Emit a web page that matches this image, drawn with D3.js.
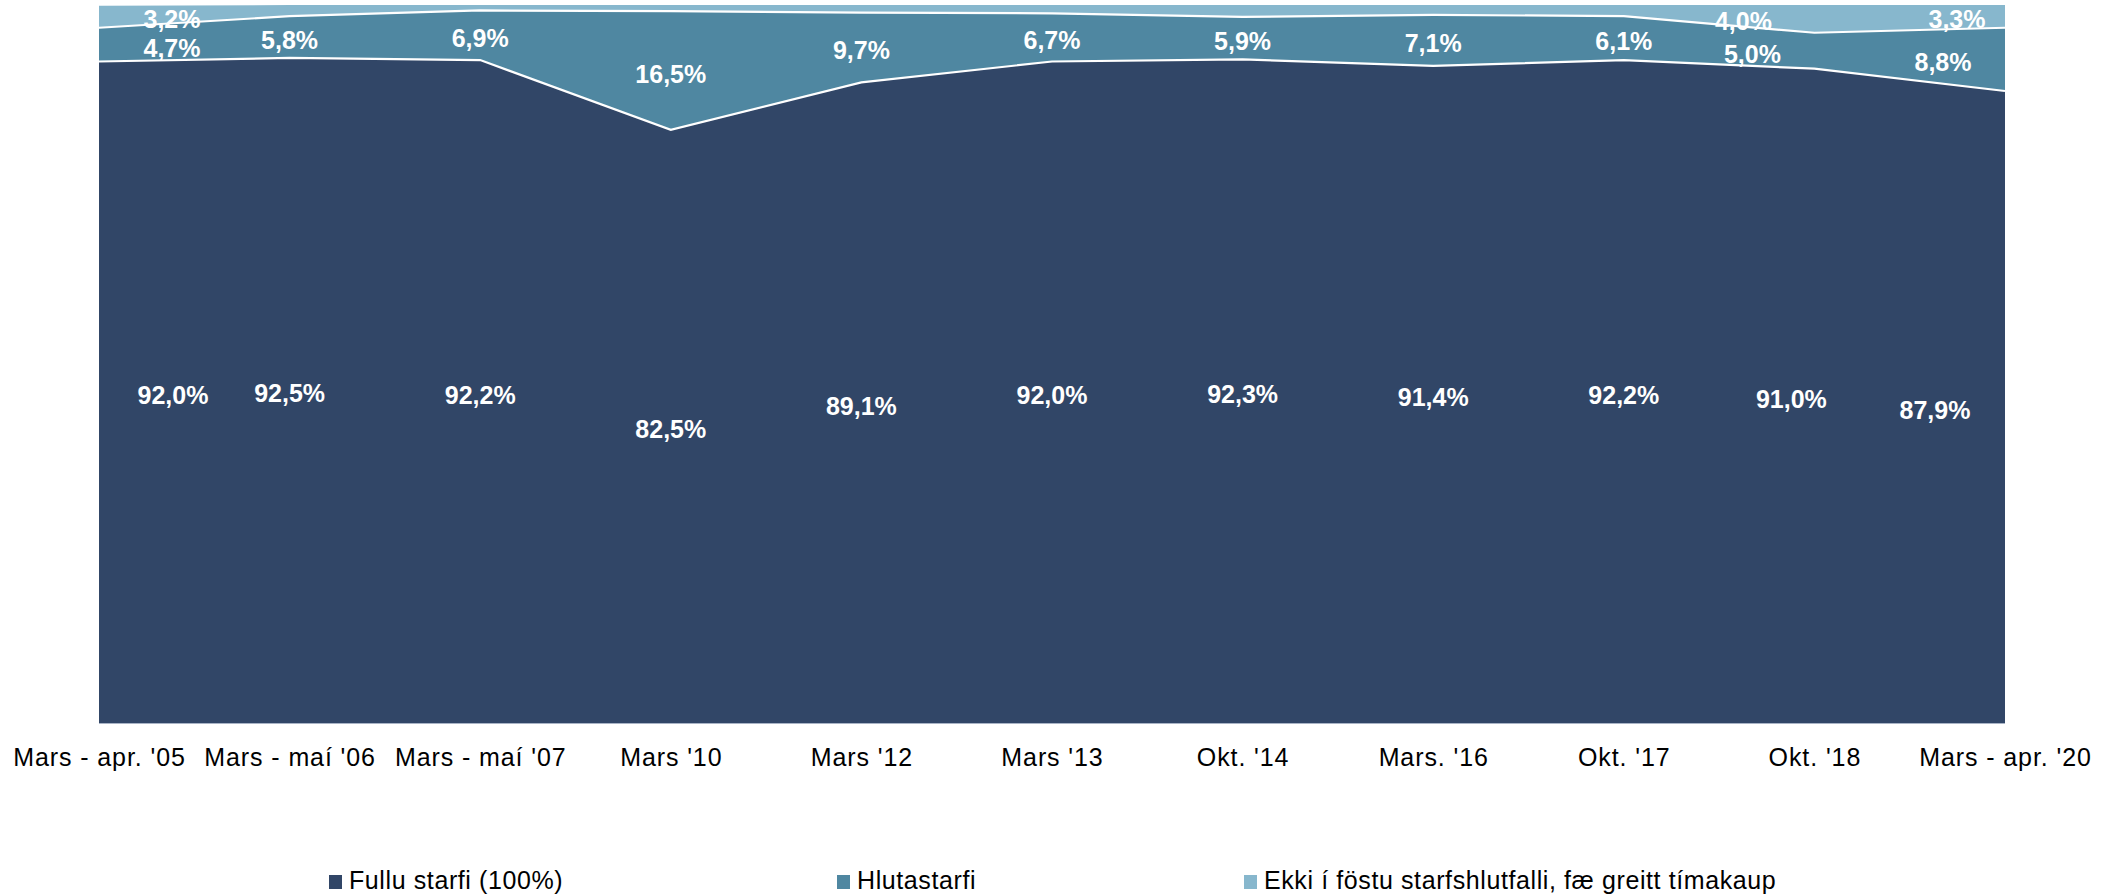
<!DOCTYPE html>
<html>
<head>
<meta charset="utf-8">
<script src="https://cdn.jsdelivr.net/npm/d3@7"></script>
<style>
  body { margin: 0; background: #fff; }
  svg { display: block; font-family: "Liberation Sans", Arial, sans-serif; }
</style>
</head>
<body>
<svg class="chart" width="2118" height="895"></svg>
<script>
// data (percent of workers)
const periods = ["Mars - apr. '05", "Mars - maí '06", "Mars - maí '07", "Mars '10", "Mars '12",
  "Mars '13", "Okt. '14", "Mars. '16", "Okt. '17", "Okt. '18", "Mars - apr. '20"];
const fullu = [92.0, 92.5, 92.2, 82.5, 89.1, 92.0, 92.3, 91.4, 92.2, 91.0, 87.9];
const hluta = [4.7, 5.8, 6.9, 16.5, 9.7, 6.7, 5.9, 7.1, 6.1, 5.0, 8.8];
const ekki = [3.2, 1.7, 0.9, 1.0, 1.2, 1.3, 1.8, 1.5, 1.7, 4.0, 3.3];
const seriesNames = ['Fullu starfi (100%)', 'Hlutastarfi', 'Ekki í föstu starfshlutfalli, fæ greitt tímakaup'];
const seriesKeys = ['fullu', 'hluta', 'ekki'];
const colors = ['#314667', '#4f87a1', '#87b7cd'];
// the light series only has labels on some points
const ekkiLabelled = [0, 9, 10];

const rows = periods.map((p, i) => ({ period: p, fullu: fullu[i], hluta: hluta[i], ekki: ekki[i] }));

const svg = d3.select('.chart');
const plot = { left: 99, right: 2005, top: 4, bottom: 723 };

const x = d3.scalePoint().domain(periods).range([plot.left, plot.right]).padding(0);
const y = d3.scaleLinear().domain([0, 100]).range([plot.bottom, plot.top]);

const stacked = d3.stack().keys(seriesKeys)(rows);

const area = d3.area()
  .x(d => x(d.data.period))
  .y0(d => y(d[0]))
  .y1(d => y(d[1]));

const topLine = d3.line()
  .x(d => x(d.data.period))
  .y(d => y(d[1]));

svg.append('g')
  .selectAll('path')
  .data(stacked)
  .enter()
  .append('path')
  .attr('fill', (d, i) => colors[i])
  .attr('d', area);

svg.append('g')
  .selectAll('path')
  .data(stacked)
  .enter()
  .append('path')
  .attr('fill', 'none')
  .attr('stroke', '#fff')
  .attr('stroke-width', 2.2)
  .attr('d', topLine);

svg.append('line')
  .attr('x1', plot.left).attr('x2', plot.right)
  .attr('y1', plot.bottom + 0.5).attr('y2', plot.bottom + 0.5)
  .attr('stroke', '#a9b4c6')
  .attr('stroke-width', 1);

// x axis
const xAxis = svg.append('g')
  .attr('transform', `translate(0, ${plot.bottom})`)
  .call(d3.axisBottom(x).tickSize(0).tickPadding(43));
xAxis.select('.domain').remove();
xAxis.selectAll('text')
  .attr('font-family', '"Liberation Sans", Arial, sans-serif')
  .attr('font-size', 25)
  .attr('letter-spacing', 0.9)
  .attr('fill', '#000')
  .attr('dy', 0);

// data labels
const fmt = v => d3.format('.1f')(v).replace('.', ',') + '%';
// labels nudged in from the plot edges, and around the dip at Okt. '18
const labelShift = { 0: [74, 73, 73], 9: [-23, -62, -71], 10: [-70, -62, -48] };

stacked.forEach((layer, s) => {
  const pts = layer.filter((d, i) => s < 2 || ekkiLabelled.includes(i));
  svg.append('g')
    .selectAll('text')
    .data(pts)
    .enter()
    .append('text')
    .attr('x', d => {
      const i = periods.indexOf(d.data.period);
      const dx = labelShift[i] ? labelShift[i][s] : 0;
      return x(d.data.period) + dx;
    })
    .attr('y', d => (y(d[0]) + y(d[1])) / 2 + 12)
    .attr('text-anchor', 'middle')
    .attr('font-size', 25)
    .attr('font-weight', 'bold')
    .attr('fill', '#fff')
    .text(d => fmt(d[1] - d[0]));
});

// legend
const legendX = [329, 837, 1244];
const legend = svg.append('g')
  .selectAll('g')
  .data(seriesNames)
  .enter()
  .append('g')
  .attr('transform', (d, i) => `translate(${legendX[i]}, 875)`);
legend.append('rect')
  .attr('width', 13)
  .attr('height', 14)
  .attr('fill', (d, i) => colors[i]);
legend.append('text')
  .attr('x', 20)
  .attr('y', 14)
  .attr('font-size', 25)
  .attr('letter-spacing', 0.6)
  .attr('fill', '#000')
  .text(d => d);
</script>
</body>
</html>
